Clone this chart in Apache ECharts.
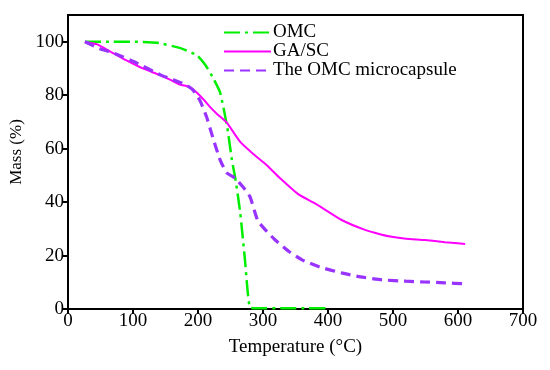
<!DOCTYPE html>
<html>
<head>
<meta charset="utf-8">
<script src="https://cdn.jsdelivr.net/npm/echarts@6/dist/echarts.min.js"></script>
<style>html,body{margin:0;padding:0;background:#fff;}#c{width:550px;height:370px;}</style>
</head>
<body>
<div id="c"></div>
<script>
const seriesNames = ["OMC", "GA/SC", "The OMC microcapsule"];
const xTicks = [0, 100, 200, 300, 400, 500, 600, 700];
const yTicks = [0, 20, 40, 60, 80, 100];

const omcT = [26, 60, 100, 137, 172, 198, 211, 222, 234, 245, 252, 258, 265, 272, 280, 293, 330, 370, 403];
const omcM = [100, 100, 100, 99.6, 97.7, 95, 91.4, 87, 81, 68, 56, 48, 36, 19, 0.5, 0.3, 0.3, 0.3, 0.3];

const gascT = [26, 45, 65, 90, 115, 140, 157, 172, 188, 198, 210, 218, 230, 244, 265, 285, 305, 326, 354, 380, 421, 457, 480, 498, 520, 549, 580, 611];
const gascM = [100, 99, 96.3, 93, 90, 87.6, 85.8, 84, 83, 81, 78, 75.7, 72.8, 69.8, 62.5, 58, 54, 49, 43, 39.5, 33.3, 29.6, 28, 27, 26.3, 25.8, 25, 24.3];

const capT = [26, 49, 69, 106, 142, 162, 180, 192, 203, 213, 223, 234, 244, 257, 269, 280, 292, 306, 318, 340, 360, 390, 421, 450, 483, 520, 549, 580, 611];
const capM = [100, 97.4, 95.9, 92, 87.6, 85.8, 84, 82, 78, 72, 64, 55.8, 51, 49, 45.7, 42, 33, 29, 26, 21.5, 18.4, 15.5, 13.5, 12, 10.9, 10.4, 10.1, 9.8, 9.4];

function pairs(xs, ys) { return xs.map((x, i) => [x, ys[i]]); }

const font = "'Liberation Serif', 'DejaVu Serif', serif";
const chart = echarts.init(document.getElementById('c'), null, {renderer: 'canvas'});
chart.setOption({
  animation: false,
  backgroundColor: '#fff',
  textStyle: {fontFamily: font},
  grid: {left: 68, right: 27, top: 15, bottom: 61, containLabel: false, outerBoundsMode: 'none',
         show: true, borderColor: '#000', borderWidth: 2, backgroundColor: 'transparent'},
  legend: {
    orient: 'vertical', left: 218, top: 18, itemWidth: 47, itemHeight: 14, itemGap: 0,
    itemStyle: {opacity: 0},
    textStyle: {fontFamily: font, fontSize: 19, color: '#000', padding: [0, 0, 0, -3]},
    data: seriesNames
  },
  xAxis: {
    type: 'value', min: 0, max: 700, interval: 100,
    name: 'Temperature (°C)', nameLocation: 'middle', nameGap: 29,
    nameTextStyle: {fontFamily: font, fontSize: 19, color: '#000'},
    axisLine: {show: true, lineStyle: {color: '#000', width: 2}},
    axisTick: {show: true, inside: false, length: 5, lineStyle: {color: '#000', width: 2}},
    axisLabel: {fontFamily: font, fontSize: 19, color: '#000', margin: 3},
    splitLine: {show: false}
  },
  yAxis: {
    type: 'value', min: 0, max: 110,
    name: 'Mass (%)', nameLocation: 'middle', nameGap: 33, nameRotate: 90,
    nameTextStyle: {fontFamily: font, fontSize: 17, color: '#000', padding: [0, 0, 0, 20]},
    axisLine: {show: true, lineStyle: {color: '#000', width: 2}},
    axisTick: {show: true, inside: false, length: 5, customValues: yTicks, lineStyle: {color: '#000', width: 2}},
    axisLabel: {fontFamily: font, fontSize: 19, color: '#000', margin: 4, customValues: yTicks},
    splitLine: {show: false}
  },
  series: [
    {name: seriesNames[0], type: 'line', data: pairs(omcT, omcM), showSymbol: false, symbol: 'none', smooth: 0.15,
     color: '#00ee00', lineStyle: {color: '#00ee00', width: 2.5, type: [16, 5, 3, 5]}},
    {name: seriesNames[1], type: 'line', data: pairs(gascT, gascM), showSymbol: false, symbol: 'none', smooth: 0.15,
     color: '#ff00ff', lineStyle: {color: '#ff00ff', width: 2}},
    {name: seriesNames[2], type: 'line', data: pairs(capT, capM), showSymbol: false, symbol: 'none', smooth: 0.15,
     color: '#9933ff', lineStyle: {color: '#9933ff', width: 3.2, type: [10, 6]}}
  ]
});
</script>
</body>
</html>
